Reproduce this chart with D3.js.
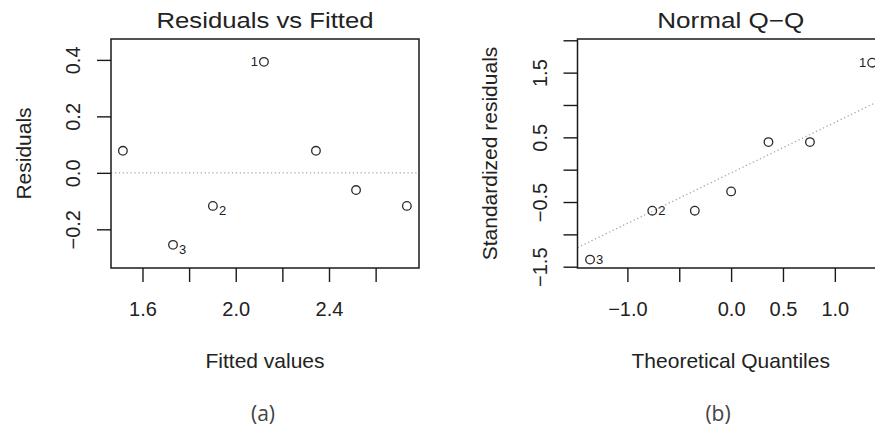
<!DOCTYPE html>
<html>
  <head>
    <meta charset="utf-8">
    <title>Residuals vs Fitted / Normal Q-Q</title>
    <script src="https://cdn.jsdelivr.net/npm/d3@7"></script>
    <style>
      body { margin: 0; background: #fff; }
      text { font-family: "Liberation Sans", Arial, sans-serif; fill: #222; }
    </style>
  </head>
  <body>
    <svg width="875" height="429" id="mainsvg"></svg>
    <script>
      // observations 1..7, only the first three are labelled in the plots
      const obsLabels = ['1', '2', '3', '', '', '', ''];
      const fittedValues = [2.121, 1.902, 1.731, 1.516, 2.344, 2.516, 2.734];
      const residualValues = [0.393, -0.117, -0.255, 0.078, 0.078, -0.061, -0.117];
      const theoreticalQuantiles = [1.36, -0.76, -1.36, -0.35, 0.0, 0.36, 0.76];
      const standardizedResiduals = [1.654, -0.634, -1.39, -0.634, -0.336, 0.426, 0.426];

      const residXTicks = [1.6, 1.8, 2.0, 2.2, 2.4, 2.6];
      const residXLabels = [1.6, 2.0, 2.4];
      const residYTicks = [-0.2, 0.0, 0.2, 0.4];
      const residYLabels = [-0.2, 0.0, 0.2, 0.4];
      const qqXTicks = [-1.0, -0.5, 0.0, 0.5, 1.0];
      const qqXLabels = [-1.0, 0.0, 0.5, 1.0];
      const qqYTicks = [-1.5, -1.0, -0.5, 0.0, 0.5, 1.0, 1.5, 2.0];
      const qqYLabels = [-1.5, -0.5, 0.5, 1.5];
      const qqLineIntercept = -0.05;
      const qqLineSlope = 0.78;

      const svg = d3.select('#mainsvg');
      const fmt = d3.format('.1f');
      const tickLen = 14;

      const residData = fittedValues.map((x, i) => ({x: x, y: residualValues[i], label: obsLabels[i]}));
      const qqData = theoreticalQuantiles.map((x, i) => ({x: x, y: standardizedResiduals[i], label: obsLabels[i]}));

      const drawPanel = function(opt){
        const g = svg.append('g').attr('id', opt.id);
        const xScale = d3.scaleLinear().domain(opt.xDomain).range([opt.left, opt.right]);
        const yScale = d3.scaleLinear().domain(opt.yDomain).range([opt.bottom, opt.top]);
        const has = (arr, v) => arr.some(a => Math.abs(a - v) < 1e-9);

        g.append('clipPath').attr('id', opt.id + '-clip')
          .append('rect')
          .attr('x', opt.left).attr('y', opt.top)
          .attr('width', opt.right - opt.left).attr('height', opt.bottom - opt.top);

        // reference line (dotted)
        g.append('line')
          .attr('clip-path', `url(#${opt.id}-clip)`)
          .attr('x1', opt.left).attr('x2', opt.right)
          .attr('y1', yScale(opt.refLine(xScale.invert(opt.left))))
          .attr('y2', yScale(opt.refLine(xScale.invert(opt.right))))
          .attr('stroke', '#a8a8a8')
          .attr('stroke-width', 1.3)
          .attr('stroke-dasharray', '1.3,2.6');

        // x axis
        const xAxis = d3.axisBottom(xScale)
          .tickValues(opt.xTicks)
          .tickSize(tickLen)
          .tickSizeOuter(0)
          .tickFormat(d => has(opt.xLabels, d) ? fmt(d) : '');
        const xg = g.append('g').attr('transform', `translate(0, ${opt.bottom})`).call(xAxis);
        xg.select('.domain').remove();
        xg.selectAll('.tick line').attr('stroke', '#1a1a1a').attr('stroke-width', 1.4);
        xg.selectAll('.tick text')
          .attr('y', 48).attr('dy', 0)
          .style('font-size', '20px')
          .style('font-family', '"Liberation Sans", Arial, sans-serif')
          .attr('fill', '#222');

        // y axis, labels parallel to the axis
        const yAxis = d3.axisLeft(yScale)
          .tickValues(opt.yTicks)
          .tickSize(tickLen)
          .tickSizeOuter(0)
          .tickFormat(d => has(opt.yLabels, d) ? fmt(d) : '');
        const yg = g.append('g').attr('transform', `translate(${opt.left}, 0)`).call(yAxis);
        yg.select('.domain').remove();
        yg.selectAll('.tick line').attr('stroke', '#1a1a1a').attr('stroke-width', 1.4);
        yg.selectAll('.tick text')
          .attr('transform', 'rotate(-90)')
          .attr('x', 0).attr('y', -31).attr('dy', 0)
          .style('text-anchor', 'middle')
          .style('font-size', '20px')
          .style('font-family', '"Liberation Sans", Arial, sans-serif')
          .attr('fill', '#222');

        // box
        g.append('rect')
          .attr('x', opt.left).attr('y', opt.top)
          .attr('width', opt.right - opt.left).attr('height', opt.bottom - opt.top)
          .attr('fill', 'none')
          .attr('stroke', '#1a1a1a')
          .attr('stroke-width', 1.5);

        // points
        g.selectAll('circle').data(opt.data).join('circle')
          .attr('cx', d => xScale(d.x))
          .attr('cy', d => yScale(d.y))
          .attr('r', 4.3)
          .attr('fill', 'none')
          .attr('stroke', '#2a2a2a')
          .attr('stroke-width', 1.3);

        // point labels
        g.selectAll('text.obs').data(opt.data.filter(d => d.label !== '')).join('text')
          .attr('class', 'obs')
          .attr('x', d => d.x > opt.labelSplit ? xScale(d.x) - 6 : xScale(d.x) + 6)
          .attr('y', d => yScale(d.y) + (d.x > opt.labelSplit ? 4.5 : opt.rightDy))
          .attr('text-anchor', d => d.x > opt.labelSplit ? 'end' : 'start')
          .style('font-size', '13px')
          .text(d => d.label);

        // title
        g.append('text')
          .attr('x', (opt.left + opt.right) / 2)
          .attr('y', 28)
          .attr('text-anchor', 'middle')
          .attr('textLength', opt.titleLen)
          .attr('lengthAdjust', 'spacingAndGlyphs')
          .style('font-size', '22px')
          .text(opt.title);

        // axis titles
        g.append('text')
          .attr('x', (opt.left + opt.right) / 2)
          .attr('y', 368)
          .attr('text-anchor', 'middle')
          .style('font-size', '21px')
          .text(opt.xTitle);
        g.append('text')
          .attr('transform', `translate(${opt.left - opt.yTitleGap}, ${(opt.top + opt.bottom) / 2}) rotate(-90)`)
          .attr('text-anchor', 'middle')
          .style('font-size', '21px')
          .text(opt.yTitle);

        // sub caption
        g.append('text')
          .attr('x', opt.capX)
          .attr('y', 421)
          .attr('text-anchor', 'middle')
          .style('font-family', '"Open Sans", "Noto Sans", sans-serif')
          .style('font-size', '21px')
          .style('fill', '#444')
          .text(opt.caption);
      };

      drawPanel({
        id: 'resid', data: residData,
        left: 111, right: 419, top: 39, bottom: 268,
        xDomain: [1.465, 2.786], yDomain: [-0.337, 0.474],
        xTicks: residXTicks, xLabels: residXLabels,
        yTicks: residYTicks, yLabels: residYLabels,
        refLine: x => 0,
        labelSplit: 2.0, rightDy: 9,
        title: 'Residuals vs Fitted', titleLen: 217,
        xTitle: 'Fitted values', yTitle: 'Residuals', yTitleGap: 80,
        caption: '(a)', capX: 263
      });

      drawPanel({
        id: 'qq', data: qqData,
        left: 577.5, right: 884, top: 39, bottom: 268,
        xDomain: [-1.481, 1.474], yDomain: [-1.52, 2.02],
        xTicks: qqXTicks, xLabels: qqXLabels,
        yTicks: qqYTicks, yLabels: qqYLabels,
        refLine: x => qqLineIntercept + qqLineSlope * x,
        labelSplit: 0.0, rightDy: 4,
        title: 'Normal Q\u2212Q', titleLen: 147,
        xTitle: 'Theoretical Quantiles', yTitle: 'Standardized residuals', yTitleGap: 81,
        caption: '(b)', capX: 718
      });
    </script>
  </body>
</html>
